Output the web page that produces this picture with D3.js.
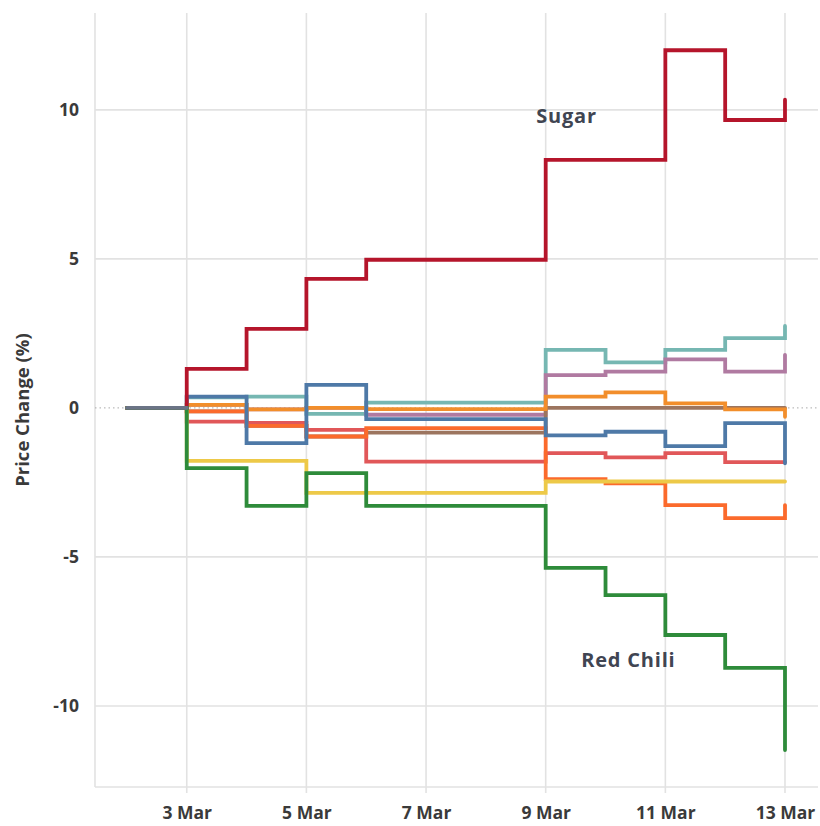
<!DOCTYPE html>
<html>
<head>
<meta charset="utf-8">
<script src="https://cdn.jsdelivr.net/npm/d3@7"></script>
<style>
  html, body { margin: 0; padding: 0; background: #fff; }
  svg { display: block; font-family: "Open Sans", sans-serif; }
</style>
</head>
<body>
<svg id="chart" width="820" height="826"></svg>
<script>
// ---- data ----
const dates = ["2024-03-02","2024-03-03","2024-03-04","2024-03-05","2024-03-06","2024-03-07",
               "2024-03-08","2024-03-09","2024-03-10","2024-03-11","2024-03-12","2024-03-13"];
const xTickDates = ["2024-03-03","2024-03-05","2024-03-07","2024-03-09","2024-03-11","2024-03-13"];
const xTickLabels = ["3 Mar","5 Mar","7 Mar","9 Mar","11 Mar","13 Mar"];
const yTicks = [-10, -5, 0, 5, 10];
const yTickLabels = ["-10", "-5", "0", "5", "10"];
const yTitle = "Price Change (%)";

const seriesNames = ["Teal", "Purple", "Brown", "Red", "Orange", "Amber", "Blue", "Yellow", "Sugar", "Red Chili"];
const seriesColors = ["#76b7b2", "#b07aa1", "#9c755f", "#e15759", "#fb6a2c", "#f28e2b", "#4e79a7", "#edc948", "#b5152b", "#2e8b3a"];

const teal    = [0, 0.35, 0.38, -0.2, 0.18, 0.18, 0.18, 1.95, 1.53, 1.95, 2.34, 2.75];
const purple  = [0, 0.1, -0.05, 0.0, -0.23, -0.23, -0.23, 1.1, 1.22, 1.63, 1.22, 1.78];
const brown   = [0, -0.12, -0.6, -0.96, -0.83, -0.83, -0.83, 0, 0, 0, 0, 0];
const red     = [0, -0.46, -0.5, -0.74, -1.8, -1.8, -1.8, -1.52, -1.66, -1.52, -1.82, -1.82];
const orange  = [0, -0.12, -0.6, -0.96, -0.68, -0.68, -0.68, -2.39, -2.53, -3.26, -3.7, -3.26];
const amber   = [0, 0.1, -0.05, 0.0, -0.04, -0.04, -0.04, 0.38, 0.52, 0.15, -0.05, -0.3];
const blue    = [0, 0.38, -1.18, 0.77, -0.38, -0.38, -0.38, -0.92, -0.8, -1.28, -0.51, -1.86];
const yellow  = [0, -1.78, -1.78, -2.85, -2.85, -2.85, -2.85, -2.47, -2.47, -2.47, -2.47, -2.47];
const sugar   = [0, 1.31, 2.65, 4.33, 4.97, 4.97, 4.97, 8.32, 8.32, 12.0, 9.66, 10.34];
const redChili= [0, -2.02, -3.29, -2.19, -3.29, -3.29, -3.29, -5.37, -6.28, -7.62, -8.72, -11.48];

const seriesValues = [teal, purple, brown, red, orange, amber, blue, yellow, sugar, redChili];
const labelled = { "Sugar": { date: "2024-03-10", value: 9.55, dx: -39 },
                   "Red Chili": { date: "2024-03-11", value: -8.7, dx: -37 } };

// ---- chart ----
(function () {
const svg = d3.select("#chart");
const parse = d3.utcParse("%Y-%m-%d");
const dateObjs = dates.map(parse);

const x = d3.scaleUtc()
  .domain([d3.utcHour.offset(dateObjs[0], -12), dateObjs[dateObjs.length - 1]])
  .range([97, 785]);
const y = d3.scaleLinear().domain([-12.72, 13.25]).range([787, 13]);

const pLeft = 95, pRight = 818, pTop = 13, pBottom = 787;
const grid = svg.append("g");
const gridColor = "#e2e2e2";

grid.selectAll("line.h").data(yTicks.filter(d => d !== 0)).join("line")
  .attr("x1", pLeft).attr("x2", pRight)
  .attr("y1", d => y(d)).attr("y2", d => y(d))
  .attr("stroke", gridColor).attr("stroke-width", 1.6);

grid.append("line").attr("x1", pLeft).attr("x2", pLeft).attr("y1", pTop).attr("y2", pBottom)
  .attr("stroke", gridColor).attr("stroke-width", 1.6);
grid.selectAll("line.v").data(xTickDates.map(parse)).join("line")
  .attr("x1", d => x(d)).attr("x2", d => x(d))
  .attr("y1", pTop).attr("y2", pBottom + 6)
  .attr("stroke", gridColor).attr("stroke-width", 1.6);
grid.append("line").attr("x1", pLeft).attr("x2", pRight).attr("y1", pBottom).attr("y2", pBottom)
  .attr("stroke", gridColor).attr("stroke-width", 1.6);
grid.append("line").attr("x1", pLeft).attr("x2", pRight).attr("y1", y(0)).attr("y2", y(0))
  .attr("stroke", "#aaaaaa").attr("stroke-width", 1).attr("stroke-dasharray", "1.5,3");

const textStyle = sel => sel.attr("font-family", "Open Sans").attr("font-size", 17.5)
  .attr("font-weight", 700).attr("fill", "#3a3a3a");

const xAxis = d3.axisBottom(x).tickValues(xTickDates.map(parse))
  .tickFormat((d, i) => xTickLabels[i]).tickSize(0).tickPadding(20);
const gx = svg.append("g").attr("transform", `translate(0,${pBottom})`).call(xAxis);
gx.select(".domain").remove();
gx.selectAll("text").call(textStyle);

const yAxis = d3.axisLeft(y).tickValues(yTicks)
  .tickFormat((d, i) => yTickLabels[i]).tickSize(0).tickPadding(0);
const gy = svg.append("g").attr("transform", "translate(79,0)").call(yAxis);
gy.select(".domain").remove();
gy.selectAll("text").call(textStyle);

svg.append("text")
  .attr("transform", "translate(29,410) rotate(-90)")
  .attr("text-anchor", "middle")
  .call(textStyle).attr("font-size", 18.5).text(yTitle);

const line = d3.line().curve(d3.curveStepAfter)
  .x((d, i) => x(dateObjs[i])).y(d => y(d));

const lines = svg.append("g");
seriesValues.forEach((vals, k) => {
  lines.append("path")
    .attr("d", line(vals))
    .attr("fill", "none")
    .attr("stroke", seriesColors[k])
    .attr("stroke-width", 3.8)
    .attr("stroke-linejoin", "miter")
    .attr("stroke-linecap", "round");
});

lines.append("path")
  .attr("d", line(seriesValues[0].slice(0, 2).map(() => seriesValues[0][0])))
  .attr("fill", "none").attr("stroke", "#6b7486")
  .attr("stroke-width", 3.8).attr("stroke-linecap", "round");

Object.entries(labelled).forEach(([name, p]) => {
  svg.append("text")
    .attr("x", x(parse(p.date)) + p.dx)
    .attr("y", y(p.value))
    .attr("text-anchor", "middle")
    .call(textStyle).attr("font-size", 20).attr("letter-spacing", 0.8)
    .attr("fill", "#404552").text(name);
});
})();
</script>
</body>
</html>
